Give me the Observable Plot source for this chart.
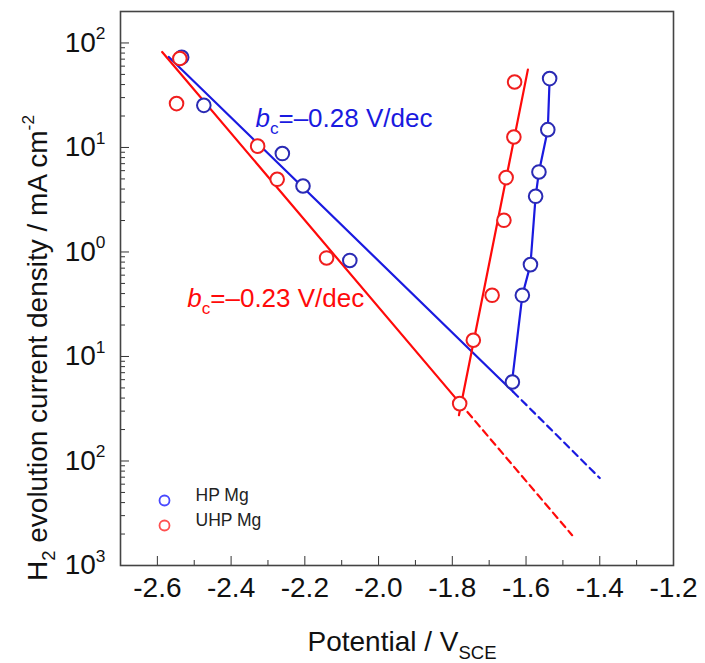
<!DOCTYPE html>
<html><head><meta charset="utf-8">
<script src="https://cdn.jsdelivr.net/npm/d3@7"></script>
<script src="https://cdn.jsdelivr.net/npm/@observablehq/plot@0.6"></script>
<style>html,body{margin:0;padding:0;background:#fff;}</style>
</head><body><div id="chart"></div>
<script>
// ---- data ----
const hpPotential = [-2.534, -2.474, -2.261, -2.205, -2.078, -1.637, -1.610, -1.588, -1.574, -1.565, -1.541, -1.536];
const hpCurrent   = [73, 25.3, 8.75, 4.28, 0.83, 0.057, 0.385, 0.757, 3.41, 5.83, 14.8, 45.6];
const uhpPotential = [-2.539, -2.548, -2.328, -2.275, -2.141, -1.780, -1.743, -1.692, -1.660, -1.654, -1.633, -1.631];
const uhpCurrent   = [71, 26.3, 10.3, 4.96, 0.877, 0.0354, 0.143, 0.385, 2.01, 5.15, 12.6, 42.3];

// fitted lines (endpoints)
const hpCathPotential = [-2.569, -1.635];
const hpCathCurrent   = [73.5, 0.046];
const hpExtPotential  = [-1.635, -1.400];
const hpExtCurrent    = [0.046, 0.00687];
const hpAnodPotential = [-1.640, -1.610, -1.588, -1.574, -1.565, -1.541, -1.536];
const hpAnodCurrent   = [0.05, 0.385, 0.757, 3.41, 5.83, 14.8, 45.6];
const uhpCathPotential = [-2.587, -1.780];
const uhpCathCurrent   = [82, 0.036];
const uhpExtPotential  = [-1.780, -1.475];
const uhpExtCurrent    = [0.036, 0.00195];
const uhpAnodPotential = [-1.782, -1.595];
const uhpAnodCurrent   = [0.0274, 55.6];

// annotations
const annPotential = [-2.334, -2.519];
const annCurrent   = [19.0, 0.36];
const annText      = ["*b*_{c}=–0.28 V/dec", "*b*_{c}=–0.23 V/dec"];

// ticks
const xTicks = [-2.6, -2.4, -2.2, -2.0, -1.8, -1.6, -1.4, -1.2];
const xTickLabels = ["-2.6", "-2.4", "-2.2", "-2.0", "-1.8", "-1.6", "-1.4", "-1.2"];
const xMinorTicks = [-2.5, -2.3, -2.1, -1.9, -1.7, -1.5, -1.3];
const yTicks = [1e-3, 1e-2, 1e-1, 1, 10, 100];
const yTickLabels = ["10^{3}", "10^{2}", "10^{1}", "10^{0}", "10^{1}", "10^{2}"];
const legendLabels = ["HP Mg", "UHP Mg"];

const blueLine = "#1a1ae0", blueDot = "#2a2ab4";
const redLine = "#ff0a0a", redDot = "#f01e1e";
const ink = "#111";

const yMinor = [];
for (const e of [-3, -2, -1, 0, 1]) for (let k = 2; k <= 9; k++) yMinor.push(k * Math.pow(10, e));

const pts = (xs, ys) => xs.map((x, i) => ({x, y: ys[i]}));
const xLab = new Map(xTicks.map((t, i) => [t, xTickLabels[i]]));
const yLab = new Map(yTicks.map((t, i) => [t, yTickLabels[i]]));

const chart = Plot.plot({
  width: 705, height: 663,
  marginLeft: 120, marginRight: 32, marginTop: 11, marginBottom: 98,
  style: {fontFamily: "'Liberation Sans', Arial, Helvetica, sans-serif", background: "#fff", color: ink},
  x: {domain: [-2.7, -1.2], label: null},
  y: {type: "log", domain: [1e-3, 200], label: null},
  marks: [
    Plot.axisX(xTicks, {tickSize: 9, dy: -9, tickPadding: 12, fontSize: 28, tickFormat: d => xLab.get(d), label: null, stroke: "#333", fill: ink}),
    Plot.axisX(xMinorTicks, {tickSize: 5, dy: -5, fill: "none", label: null, stroke: "#333"}),
    Plot.axisY(yTicks, {tickSize: 9, dx: 9, tickPadding: 15, fontSize: 28, tickFormat: d => yLab.get(d), label: null, stroke: "#333", fill: ink}),
    Plot.axisY(yMinor, {tickSize: 5, dx: 5, fill: "none", label: null, stroke: "#333"}),
    Plot.frame({stroke: "#444", strokeWidth: 1.6}),
    Plot.line(pts(hpCathPotential, hpCathCurrent), {x: "x", y: "y", stroke: blueLine, strokeWidth: 2.2}),
    Plot.line(pts(hpExtPotential, hpExtCurrent), {x: "x", y: "y", stroke: blueLine, strokeWidth: 2.2, strokeDasharray: "7,5"}),
    Plot.line(pts(hpAnodPotential, hpAnodCurrent), {x: "x", y: "y", stroke: blueLine, strokeWidth: 2.2}),
    Plot.line(pts(uhpCathPotential, uhpCathCurrent), {x: "x", y: "y", stroke: redLine, strokeWidth: 2.2}),
    Plot.line(pts(uhpExtPotential, uhpExtCurrent), {x: "x", y: "y", stroke: redLine, strokeWidth: 2.2, strokeDasharray: "7,5"}),
    Plot.line(pts(uhpAnodPotential, uhpAnodCurrent), {x: "x", y: "y", stroke: redLine, strokeWidth: 2.2}),
    Plot.dot(pts(hpPotential, hpCurrent), {x: "x", y: "y", r: 6.8, stroke: blueDot, strokeWidth: 2, fill: "#fff"}),
    Plot.dot(pts(uhpPotential, uhpCurrent), {x: "x", y: "y", r: 6.8, stroke: redDot, strokeWidth: 2, fill: "#fff"}),
    Plot.text([0], {x: annPotential[0], y: annCurrent[0], text: [annText[0]], fill: blueLine, fontSize: 26, textAnchor: "start"}),
    Plot.text([0], {x: annPotential[1], y: annCurrent[1], text: [annText[1]], fill: redLine, fontSize: 26, textAnchor: "start"}),
    // legend
    Plot.dot([legendLabels[0]], {frameAnchor: "bottom-left", dx: 44, dy: -65, r: 5, stroke: "#4848ff", strokeWidth: 1.8, fill: "#fff"}),
    Plot.dot([legendLabels[1]], {frameAnchor: "bottom-left", dx: 44, dy: -40, r: 5, stroke: "#ff5050", strokeWidth: 1.8, fill: "#fff"}),
    Plot.text([legendLabels[0]], {frameAnchor: "bottom-left", dx: 75, dy: -65, text: d => d, fontSize: 17.5, fill: "#222", textAnchor: "start"}),
    Plot.text([legendLabels[1]], {frameAnchor: "bottom-left", dx: 75, dy: -40, text: d => d, fontSize: 17.5, fill: "#222", textAnchor: "start"})
  ]
});

document.getElementById("chart").append(chart);
const svg = d3.select(chart);
svg.append("text")
  .attr("transform", "translate(47,348) rotate(-90)")
  .attr("text-anchor", "middle").attr("font-size", 28).attr("fill", ink)
  .text("H_{2} evolution current density / mA cm^{-2}");
svg.append("text")
  .attr("transform", "translate(402,651)")
  .attr("text-anchor", "middle").attr("font-size", 28).attr("fill", ink)
  .text("Potential / V_{SCE}");

const NS = "http://www.w3.org/2000/svg";
function richify(el) {
  const raw = el.textContent;
  if (!/[\^_]\{|\*[^*]+\*/.test(raw)) return;
  const fs = parseFloat(getComputedStyle(el).fontSize) || 20;
  while (el.firstChild) el.removeChild(el.firstChild);
  const re = /(\^\{[^}]*\}|_\{[^}]*\}|\*[^*]+\*)/g;
  let last = 0, shift = 0, m;
  const add = (txt, attrs) => {
    const t = document.createElementNS(NS, "tspan");
    for (const k in attrs) t.setAttribute(k, attrs[k]);
    t.textContent = txt; el.appendChild(t);
  };
  const plain = (txt) => {
    if (!txt) return;
    add(txt, shift ? {dy: -shift} : {}); shift = 0;
  };
  while ((m = re.exec(raw))) {
    plain(raw.slice(last, m.index));
    const tok = m[0];
    if (tok[0] === "^") {
      const d = -0.46 * fs - shift;
      add(tok.slice(2, -1), {dy: d, "font-size": 0.62 * fs});
      shift = -0.46 * fs;
    } else if (tok[0] === "_") {
      const d = 0.3 * fs - shift;
      add(tok.slice(2, -1), {dy: d, "font-size": 0.66 * fs});
      shift = 0.3 * fs;
    } else {
      const a = {"font-style": "italic"};
      if (shift) { a.dy = -shift; shift = 0; }
      add(tok.slice(1, -1), a);
    }
    last = m.index + tok.length;
  }
  plain(raw.slice(last));
}
chart.querySelectorAll("text").forEach(richify);
</script>
</body></html>
